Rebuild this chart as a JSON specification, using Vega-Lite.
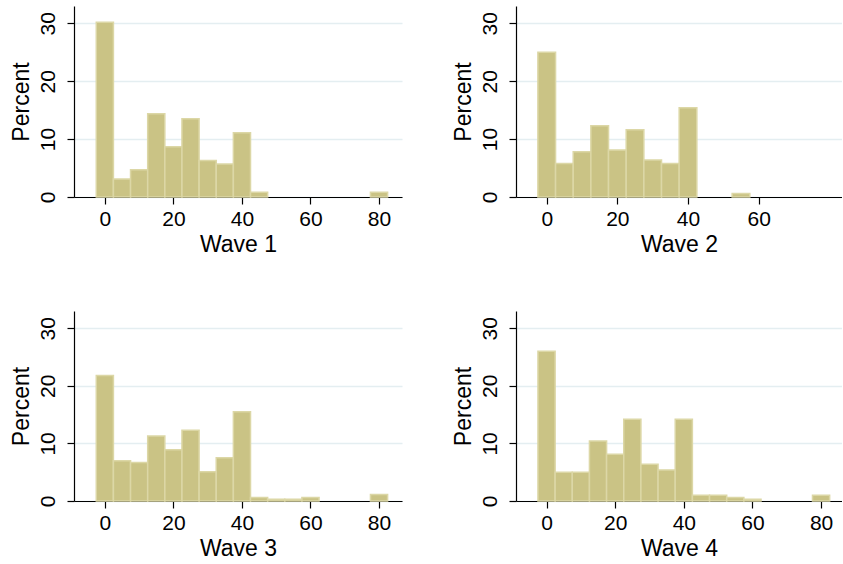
{
  "$schema": "https://vega.github.io/schema/vega-lite/v6.json",
  "background": "white",
  "padding": {"left": 10, "top": 6, "right": 0, "bottom": 0},
  "datasets": {
    "hist": [
      {"wave": "Wave 1", "bin_start": -2.5, "bin_end": 2.5, "percent": 30.2},
      {"wave": "Wave 1", "bin_start": 2.5, "bin_end": 7.5, "percent": 3.1},
      {"wave": "Wave 1", "bin_start": 7.5, "bin_end": 12.5, "percent": 4.7},
      {"wave": "Wave 1", "bin_start": 12.5, "bin_end": 17.5, "percent": 14.4},
      {"wave": "Wave 1", "bin_start": 17.5, "bin_end": 22.5, "percent": 8.7},
      {"wave": "Wave 1", "bin_start": 22.5, "bin_end": 27.5, "percent": 13.5},
      {"wave": "Wave 1", "bin_start": 27.5, "bin_end": 32.5, "percent": 6.3},
      {"wave": "Wave 1", "bin_start": 32.5, "bin_end": 37.5, "percent": 5.7},
      {"wave": "Wave 1", "bin_start": 37.5, "bin_end": 42.5, "percent": 11.1},
      {"wave": "Wave 1", "bin_start": 42.5, "bin_end": 47.5, "percent": 0.8},
      {"wave": "Wave 1", "bin_start": 77.5, "bin_end": 82.5, "percent": 0.8},
      {"wave": "Wave 2", "bin_start": -2.5, "bin_end": 2.5, "percent": 25.0},
      {"wave": "Wave 2", "bin_start": 2.5, "bin_end": 7.5, "percent": 5.8},
      {"wave": "Wave 2", "bin_start": 7.5, "bin_end": 12.5, "percent": 7.8},
      {"wave": "Wave 2", "bin_start": 12.5, "bin_end": 17.5, "percent": 12.3},
      {"wave": "Wave 2", "bin_start": 17.5, "bin_end": 22.5, "percent": 8.1},
      {"wave": "Wave 2", "bin_start": 22.5, "bin_end": 27.5, "percent": 11.6},
      {"wave": "Wave 2", "bin_start": 27.5, "bin_end": 32.5, "percent": 6.4},
      {"wave": "Wave 2", "bin_start": 32.5, "bin_end": 37.5, "percent": 5.8},
      {"wave": "Wave 2", "bin_start": 37.5, "bin_end": 42.5, "percent": 15.4},
      {"wave": "Wave 2", "bin_start": 52.5, "bin_end": 57.5, "percent": 0.6},
      {"wave": "Wave 3", "bin_start": -2.5, "bin_end": 2.5, "percent": 21.8},
      {"wave": "Wave 3", "bin_start": 2.5, "bin_end": 7.5, "percent": 7.0},
      {"wave": "Wave 3", "bin_start": 7.5, "bin_end": 12.5, "percent": 6.7},
      {"wave": "Wave 3", "bin_start": 12.5, "bin_end": 17.5, "percent": 11.3},
      {"wave": "Wave 3", "bin_start": 17.5, "bin_end": 22.5, "percent": 8.9},
      {"wave": "Wave 3", "bin_start": 22.5, "bin_end": 27.5, "percent": 12.3},
      {"wave": "Wave 3", "bin_start": 27.5, "bin_end": 32.5, "percent": 5.1},
      {"wave": "Wave 3", "bin_start": 32.5, "bin_end": 37.5, "percent": 7.5},
      {"wave": "Wave 3", "bin_start": 37.5, "bin_end": 42.5, "percent": 15.5},
      {"wave": "Wave 3", "bin_start": 42.5, "bin_end": 47.5, "percent": 0.6},
      {"wave": "Wave 3", "bin_start": 47.5, "bin_end": 52.5, "percent": 0.3},
      {"wave": "Wave 3", "bin_start": 52.5, "bin_end": 57.5, "percent": 0.3},
      {"wave": "Wave 3", "bin_start": 57.5, "bin_end": 62.5, "percent": 0.6},
      {"wave": "Wave 3", "bin_start": 77.5, "bin_end": 82.5, "percent": 1.15},
      {"wave": "Wave 4", "bin_start": -2.5, "bin_end": 2.5, "percent": 26.0},
      {"wave": "Wave 4", "bin_start": 2.5, "bin_end": 7.5, "percent": 5.0},
      {"wave": "Wave 4", "bin_start": 7.5, "bin_end": 12.5, "percent": 5.0},
      {"wave": "Wave 4", "bin_start": 12.5, "bin_end": 17.5, "percent": 10.4},
      {"wave": "Wave 4", "bin_start": 17.5, "bin_end": 22.5, "percent": 8.1},
      {"wave": "Wave 4", "bin_start": 22.5, "bin_end": 27.5, "percent": 14.2},
      {"wave": "Wave 4", "bin_start": 27.5, "bin_end": 32.5, "percent": 6.4},
      {"wave": "Wave 4", "bin_start": 32.5, "bin_end": 37.5, "percent": 5.4},
      {"wave": "Wave 4", "bin_start": 37.5, "bin_end": 42.5, "percent": 14.2},
      {"wave": "Wave 4", "bin_start": 42.5, "bin_end": 47.5, "percent": 1.0},
      {"wave": "Wave 4", "bin_start": 47.5, "bin_end": 52.5, "percent": 1.0},
      {"wave": "Wave 4", "bin_start": 52.5, "bin_end": 57.5, "percent": 0.6},
      {"wave": "Wave 4", "bin_start": 57.5, "bin_end": 62.5, "percent": 0.3},
      {"wave": "Wave 4", "bin_start": 77.5, "bin_end": 82.5, "percent": 1.0}
    ]
  },
  "data": {"name": "hist"},
  "bounds": "flush",
  "spacing": 114,
  "columns": 2,
  "concat": [
    {
      "width": 328, "height": 191,
      "transform": [{"filter": "datum.wave == 'Wave 1'"}],
      "mark": {"type": "bar", "fill": "#cac385", "stroke": "#dcd7a6", "strokeWidth": 1.5},
      "encoding": {
        "x": {"field": "bin_start", "type": "quantitative", "scale": {"domain": [-9, 86.7], "nice": false, "zero": false}, "axis": {"title": "Wave 1", "values": [0, 20, 40, 60, 80]}},
        "x2": {"field": "bin_end"},
        "y": {"field": "percent", "type": "quantitative", "scale": {"domain": [0, 33], "nice": false}, "axis": {"title": "Percent", "values": [0, 10, 20, 30]}},
        "y2": {"datum": 0}
      }
    },
    {
      "width": 326, "height": 191,
      "transform": [{"filter": "datum.wave == 'Wave 2'"}],
      "mark": {"type": "bar", "fill": "#cac385", "stroke": "#dcd7a6", "strokeWidth": 1.5},
      "encoding": {
        "x": {"field": "bin_start", "type": "quantitative", "scale": {"domain": [-8.7, 83.6], "nice": false, "zero": false}, "axis": {"title": "Wave 2", "values": [0, 20, 40, 60]}},
        "x2": {"field": "bin_end"},
        "y": {"field": "percent", "type": "quantitative", "scale": {"domain": [0, 33], "nice": false}, "axis": {"title": "Percent", "values": [0, 10, 20, 30]}},
        "y2": {"datum": 0}
      }
    },
    {
      "width": 328, "height": 190,
      "transform": [{"filter": "datum.wave == 'Wave 3'"}],
      "mark": {"type": "bar", "fill": "#cac385", "stroke": "#dcd7a6", "strokeWidth": 1.5},
      "encoding": {
        "x": {"field": "bin_start", "type": "quantitative", "scale": {"domain": [-9, 86.7], "nice": false, "zero": false}, "axis": {"title": "Wave 3", "values": [0, 20, 40, 60, 80]}},
        "x2": {"field": "bin_end"},
        "y": {"field": "percent", "type": "quantitative", "scale": {"domain": [0, 33], "nice": false}, "axis": {"title": "Percent", "values": [0, 10, 20, 30]}},
        "y2": {"datum": 0}
      }
    },
    {
      "width": 326, "height": 190,
      "transform": [{"filter": "datum.wave == 'Wave 4'"}],
      "mark": {"type": "bar", "fill": "#cac385", "stroke": "#dcd7a6", "strokeWidth": 1.5},
      "encoding": {
        "x": {"field": "bin_start", "type": "quantitative", "scale": {"domain": [-8.9, 86.1], "nice": false, "zero": false}, "axis": {"title": "Wave 4", "values": [0, 20, 40, 60, 80]}},
        "x2": {"field": "bin_end"},
        "y": {"field": "percent", "type": "quantitative", "scale": {"domain": [0, 33], "nice": false}, "axis": {"title": "Percent", "values": [0, 10, 20, 30]}},
        "y2": {"datum": 0}
      }
    }
  ],
  "config": {
    "view": {"stroke": null},
    "font": "Liberation Sans",
    "axis": {
      "labelFont": "Liberation Sans",
      "titleFont": "Liberation Sans",
      "labelFontSize": 21,
      "titleFontSize": 23,
      "titleFontWeight": "normal",
      "labelColor": "black",
      "titleColor": "black",
      "domainColor": "black",
      "domainWidth": 1.2,
      "tickColor": "black",
      "tickWidth": 1.2,
      "tickSize": 7,
      "labelPadding": 4,
      "titlePadding": 4
    },
    "axisX": {"grid": false},
    "axisY": {
      "grid": true,
      "gridColor": "#e4eef1",
      "gridWidth": 1.5,
      "labelAngle": -90,
      "labelAlign": "center",
      "labelBaseline": "bottom",
      "labelPadding": 9,
      "titlePadding": 4
    }
  }
}
